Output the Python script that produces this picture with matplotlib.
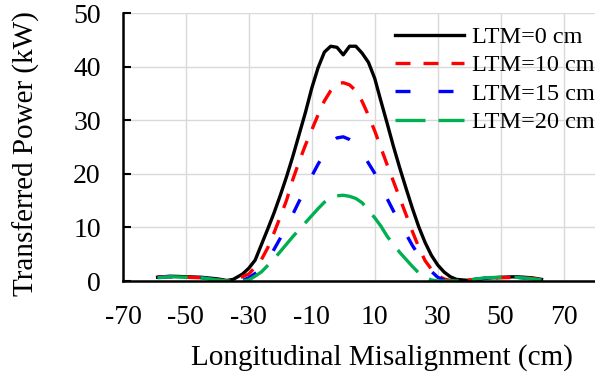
import matplotlib
matplotlib.use("Agg")
import matplotlib.pyplot as plt

# longitudinal misalignment (cm)
x = [-59, -55, -50, -45, -40, -37, -35, -32, -30, -28, -26, -24, -22, -20, -18, -16,
     -14, -12, -10, -8, -6, -4, -2, 0, 2, 4, 6, 8, 10, 12, 14, 16, 18, 20, 22, 24,
     26, 28, 30, 32, 34, 36, 40, 45, 50, 55, 60, 63]

# transferred power (kW) for each LTM
p_ltm0 = [0.7, 0.9, 0.8, 0.7, 0.4, 0.1, 0.3, 1.3, 2.4, 3.9, 6.8, 9.7, 12.7, 16.0, 19.5, 23.3,
          27.4, 31.5, 36.0, 39.8, 42.7, 43.8, 43.6, 42.2, 43.8, 43.8, 42.5, 40.8, 37.8, 33.5, 29.3, 25.0,
          21.0, 17.2, 13.5, 10.1, 7.2, 4.8, 3.0, 1.7, 0.8, 0.3, 0.1, 0.5, 0.7, 0.8, 0.6, 0.3]
p_ltm10 = [0.8, 0.8, 0.7, 0.6, 0.2, 0.0, 0.3, 0.8, 1.3, 2.6, 4.0, 6.2, 9.0, 12.0, 15.1, 19.0,
           22.3, 25.4, 28.2, 31.0, 33.6, 35.5, 36.8, 37.0, 36.6, 35.5, 33.5, 30.9, 28.0, 24.8, 21.6, 18.5,
           15.4, 12.3, 9.2, 6.3, 3.8, 2.2, 1.0, 0.4, 0.1, 0.0, 0.2, 0.4, 0.6, 0.7, 0.5, 0.2]
p_ltm15 = [0.7, 0.8, 0.7, 0.6, 0.2, 0.0, 0.0, 0.1, 0.6, 1.4, 2.4, 3.8, 5.9, 8.0, 10.2, 12.5,
           14.9, 17.2, 19.6, 21.8, 23.8, 25.8, 26.7, 26.9, 26.4, 25.6, 24.0, 22.0, 20.1, 17.7, 15.3, 13.0,
           10.8, 8.7, 6.6, 4.8, 3.2, 1.8, 0.7, 0.2, 0.0, 0.0, 0.2, 0.5, 0.7, 0.7, 0.4, 0.2]
p_ltm20 = [0.6, 0.8, 0.7, 0.6, 0.2, 0.0, 0.0, 0.0, 0.2, 0.9, 1.7, 2.9, 4.1, 5.5, 6.9, 8.3,
           9.6, 10.9, 12.2, 13.5, 14.7, 15.5, 15.9, 16.0, 15.8, 15.4, 14.6, 13.2, 11.8, 10.2, 8.3, 6.8,
           5.3, 4.0, 2.7, 1.5, 0.7, 0.2, 0.0, 0.0, 0.0, 0.0, 0.2, 0.6, 0.7, 0.7, 0.4, 0.2]

labels = ["LTM=0 cm", "LTM=10 cm", "LTM=15 cm", "LTM=20 cm"]
xticks = [-70, -50, -30, -10, 10, 30, 50, 70]
yticks = [0, 10, 20, 30, 40, 50]

plt.rcParams['font.family'] = ['Liberation Serif', 'DejaVu Serif']
plt.rcParams['font.size'] = 20
plt.rcParams['axes.unicode_minus'] = False

fig = plt.figure(figsize=(5.95, 3.77), dpi=100)
ax = fig.add_axes([0.2067, 0.2546, 0.7933, 0.7109])

lw = 2.4
ax.plot(x, p_ltm0, color='black', lw=lw, label=labels[0])
ax.plot(x, p_ltm10, color='#ff0000', lw=lw, dashes=(4.5, 3.9), label=labels[1])
ax.plot(x, p_ltm15, color='#0000ff', lw=lw, dashes=(4.5, 8.4), label=labels[2])
ax.plot(x, p_ltm20, color='#00b050', lw=lw, dashes=(9, 3.9), label=labels[3])

ax.set_xlim(-70, 80)
ax.set_ylim(0, 50)
ax.set_xticks(xticks)
ax.set_yticks(yticks)
ax.grid(True, color='#d9d9d9', lw=1)
ax.set_axisbelow(True)

for side in ['top', 'right']:
    ax.spines[side].set_visible(False)
for side in ['left', 'bottom']:
    ax.spines[side].set_linewidth(1.8)

ax.tick_params(axis='y', direction='in', length=6, width=1.5, pad=16)
ax.tick_params(axis='x', length=0, pad=17)

ax.set_xlabel('Longitudinal Misalignment (cm)', fontsize=21)
ax.xaxis.set_label_coords(0.548, -0.235)
ax.set_ylabel('Transferred Power (kW)', fontsize=21)
ax.yaxis.set_label_coords(-0.176, 0.476)

ax.legend(loc='upper left', bbox_to_anchor=(0.576, 0.951), frameon=False, fontsize=17.5,
          handlelength=2.85, handletextpad=0.33, labelspacing=0.26,
          borderaxespad=0, borderpad=0)

fig.savefig('out.png', dpi=100)
